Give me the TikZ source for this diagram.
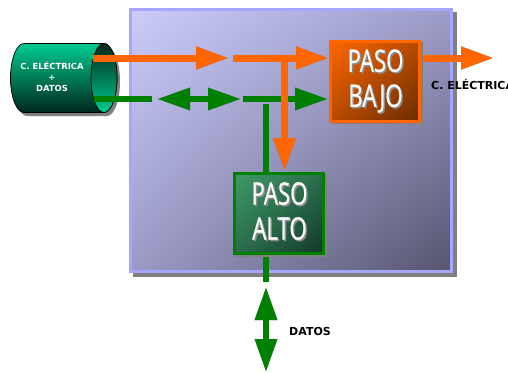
\documentclass[tikz,border=0pt]{standalone}
\usepackage{fontspec}
\setmainfont{DejaVu Sans}
\newfontfamily\pasofont[FakeBold=0.7]{Open Sans}
\usetikzlibrary{arrows.meta,shadings}
\definecolor{cOrange}{HTML}{FF6600}
\definecolor{cGreen}{HTML}{008000}
\definecolor{cLilac}{HTML}{A6A6FF}
\definecolor{cShadow}{HTML}{808080}
\definecolor{pUL}{HTML}{CCCCFC}
\definecolor{pUR}{HTML}{9C9CC8}
\definecolor{pLL}{HTML}{9A9AC6}
\definecolor{pLR}{HTML}{55556F}
\definecolor{bajoUL}{HTML}{FF6600}
\definecolor{bajoMid}{HTML}{B54A00}
\definecolor{bajoLR}{HTML}{6A2C00}
\definecolor{altoUL}{HTML}{3F9A68}
\definecolor{altoMid}{HTML}{2A6E4C}
\definecolor{altoLR}{HTML}{123828}
\definecolor{cylLight}{HTML}{00CC90}
\definecolor{cylMid}{HTML}{008A66}
\definecolor{cylDark}{HTML}{00261C}
\tikzset{
  x=1pt,y=-1pt,
  box/.style={rectangle,draw,line width=3pt,inner sep=0pt,outer sep=0pt},
  orangebox/.style={box,draw=cOrange,minimum width=89pt,minimum height=80pt,
     upper left=bajoUL,upper right=bajoMid,lower left=bajoMid,lower right=bajoLR},
  greenbox/.style={box,draw=cGreen,minimum width=89pt,minimum height=80pt,
     upper left=altoUL,upper right=altoMid,lower left=altoMid,lower right=altoLR},
  oline/.style={draw=cOrange,fill=cOrange,line width=7pt},
  gline/.style={draw=cGreen,fill=cGreen,line width=6pt},
  head/.tip={Triangle[length=33pt,width=21pt]},
  pasotext/.style={text=white,font=\pasofont\fontsize{31}{35}\selectfont,align=center,
     transform shape,xscale=.72,inner sep=0pt},
  pasoshadow/.style={pasotext,text=black!45},
  lbl/.style={font=\bfseries\fontsize{11}{13}\selectfont,text=black,inner sep=0pt},
  cyltext/.style={font=\bfseries\fontsize{8.4}{11}\selectfont,text=white,align=center,inner sep=0pt},
}
\newcommand{\conn}[4]{%
  \draw[#2,#1,draw=cShadow,fill=cShadow,shift={(1.5,1.5)}] (#3) -- (#4);
  \draw[#2,#1] (#3) -- (#4);}
\begin{document}
\begin{tikzpicture}
\useasboundingbox (0,0) rectangle (508,372);
\clip (0,0) rectangle (508,372);
% panel
\fill[cShadow] (133,12) rectangle (457,277);
\node[box,draw=cLilac,minimum width=321pt,minimum height=262pt,
      upper left=pUL,upper right=pUR,lower left=pLL,lower right=pLR] (panel) at (291,140.5) {};
% named ends
\coordinate (o1s) at (93,58);   \coordinate (o1e) at (229,58);
\coordinate (o2s) at (233,58);  \coordinate (o2e) at (329,58);
\coordinate (o3s) at (284.5,58);\coordinate (o3e) at (284.5,171);
\coordinate (o4s) at (423,58);  \coordinate (o4e) at (494,58);
\coordinate (g1s) at (94,99);   \coordinate (g1e) at (152,99);
\coordinate (g2s) at (157,99);  \coordinate (g2e) at (241,99);
\coordinate (g3s) at (243,99);  \coordinate (g3e) at (328,99);
\coordinate (g4s) at (266,104); \coordinate (g4e) at (266,172);
\coordinate (g5s) at (266,256); \coordinate (g5e) at (266,282);
\coordinate (g6s) at (266,287); \coordinate (g6e) at (266,372);
% cylinder
\fill[cShadow] (27,47) arc[x radius=13.5,y radius=34.5,start angle=270,end angle=90]
   -- (107,116) arc[x radius=13,y radius=34.5,start angle=90,end angle=-90] -- cycle;
\path[draw=black,line width=.7pt,top color=cylLight,middle color=cylMid,bottom color=cylDark]
   (24,43.5) arc[x radius=13.5,y radius=34.5,start angle=270,end angle=90]
   -- (104,112.5) arc[x radius=13,y radius=34.5,start angle=90,end angle=-90] -- cycle;
\path[draw=black,line width=.7pt,top color=cylDark,middle color=cylMid,bottom color=cylLight]
   (104,78) ellipse[x radius=13,y radius=34.5];
\node[cyltext] (cyl) at (52,77) {C. ELÉCTRICA\\+\\DATOS};
% connectors
\conn{-{head}}{oline}{o1s}{o1e}
\conn{-{head}}{oline}{o2s}{o2e}
\conn{-{head}}{gline}{g3s}{g3e}
\conn{-}{gline}{g1s}{g1e}
\conn{{head}-{head}}{gline}{g2s}{g2e}
\conn{-}{gline}{g4s}{g4e}
\conn{-{head}}{oline}{o3s}{o3e}
\conn{-{head}}{oline}{o4s}{o4e}
\conn{-}{gline}{g5s}{g5e}
\conn{{head}-{head}}{gline}{g6s}{g6e}
% filter boxes
\fill[cShadow] (330.5,41.5) rectangle (422.5,123.5);
\node[orangebox] (bajo) at (375,81) {};
\fill[cShadow] (234.5,173.5) rectangle (326.5,256.5);
\node[greenbox] (alto) at (279,213.5) {};
\node[pasoshadow] at (377,82.5) {PASO\\BAJO};
\node[pasotext] (bajotxt) at (375.5,81) {PASO\\BAJO};
\node[pasoshadow] at (281,212.5) {PASO\\ALTO};
\node[pasotext] (altotxt) at (279.5,211) {PASO\\ALTO};
% labels
\node[lbl,anchor=west] (lelec) at (431,84) {C. ELÉCTRICA};
\node[lbl,anchor=west] (ldatos) at (289,331) {DATOS};
\end{tikzpicture}
\end{document}
